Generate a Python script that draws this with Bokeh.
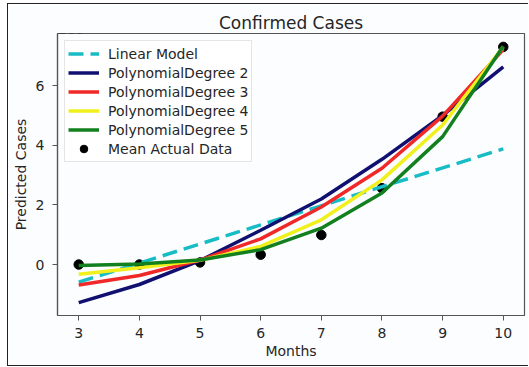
from bokeh.plotting import figure
from bokeh.layouts import column
from bokeh.models import Legend, LegendItem, FixedTicker, Label, Range1d
from bokeh.embed import file_html
from bokeh.resources import INLINE

# ---- data (values in units of 1e6) ----
months = [3, 4, 5, 6, 7, 8, 9, 10]
linear_model = [-0.59, 0.05, 0.69, 1.33, 1.97, 2.61, 3.24, 3.88]
poly_deg2 = [-1.28, -0.67, 0.13, 1.15, 2.20, 3.53, 5.00, 6.63]
poly_deg3 = [-0.69, -0.37, 0.15, 0.86, 1.93, 3.23, 4.98, 7.21]
poly_deg4 = [-0.33, -0.11, 0.14, 0.61, 1.50, 2.84, 4.68, 7.30]
poly_deg5 = [-0.03, 0.02, 0.15, 0.50, 1.22, 2.40, 4.29, 7.32]
mean_actual = [0.0, 0.0, 0.07, 0.33, 0.99, 2.56, 4.96, 7.30]

x_ticks = [3, 4, 5, 6, 7, 8, 9, 10]
y_ticks = [0, 2, 4, 6]

FONT = "DejaVu Sans"
TXT = "#262626"
BG = "#fcfdff"

p = figure(width=520, height=361, output_backend="svg", toolbar_location=None,
           x_range=Range1d(2.65, 10.35), y_range=Range1d(-1.71, 7.75),
           min_border_left=49, min_border_right=4, min_border_top=29, min_border_bottom=50,
           background_fill_color=BG, border_fill_color=BG)

p.title.text = "Confirmed Cases"
p.title.align = "center"
p.title.text_font = FONT
p.title.text_font_size = "17px"
p.title.text_font_style = "normal"
p.title.text_color = TXT
p.title.standoff = 2

p.xgrid.visible = False
p.ygrid.visible = False
p.outline_line_color = "#555555"
p.outline_line_width = 1.2

for ax in (p.xaxis[0], p.yaxis[0]):
    ax.axis_line_color = "#555555"
    ax.axis_line_width = 1.2
    ax.major_tick_line_color = "#555555"
    ax.major_tick_out = 5
    ax.major_tick_in = 0
    ax.minor_tick_out = 0
    ax.minor_tick_in = 0
    ax.major_label_text_font = FONT
    ax.major_label_text_font_size = "14px"
    ax.major_label_text_color = TXT
    ax.axis_label_text_font = FONT
    ax.axis_label_text_font_size = "14px"
    ax.axis_label_text_font_style = "normal"
    ax.axis_label_text_color = TXT

p.xaxis.ticker = FixedTicker(ticks=x_ticks)
p.yaxis.ticker = FixedTicker(ticks=y_ticks)
p.xaxis.axis_label = "Months"
p.yaxis.axis_label = "Predicted Cases"
p.xaxis.major_label_standoff = 7
p.xaxis.axis_label_standoff = 2
p.yaxis.major_label_standoff = 8
p.yaxis.axis_label_standoff = 4

dots = p.scatter(months, mean_actual, size=9.5, color="black")
r_lin = p.line(months, linear_model, line_color="#17bcc4", line_width=3.5, line_dash="15 7")
r2 = p.line(months, poly_deg2, line_color="#101070", line_width=3.5)
r3 = p.line(months, poly_deg3, line_color="#f02828", line_width=3.5)
r4 = p.line(months, poly_deg4, line_color="#f0f01c", line_width=3.5)
r5 = p.line(months, poly_deg5, line_color="#12801e", line_width=3.5)

legend = Legend(items=[
    LegendItem(label="Linear Model", renderers=[r_lin]),
    LegendItem(label="PolynomialDegree 2", renderers=[r2]),
    LegendItem(label="PolynomialDegree 3", renderers=[r3]),
    LegendItem(label="PolynomialDegree 4", renderers=[r4]),
    LegendItem(label="PolynomialDegree 5", renderers=[r5]),
    LegendItem(label="Mean Actual Data", renderers=[dots]),
], location="top_left")
legend.margin = 7
legend.padding = 3
legend.spacing = 0
legend.glyph_width = 31
legend.glyph_height = 19
legend.label_height = 19
legend.label_standoff = 9
legend.label_text_font = FONT
legend.label_text_font_size = "14px"
legend.label_text_color = TXT
legend.border_line_color = "#cccccc"
legend.border_line_width = 1
legend.background_fill_color = "white"
legend.background_fill_alpha = 0.85
p.add_layout(legend, "center")

p.add_layout(Label(x=2.65, y=7.75, text="1e6", text_font=FONT, text_font_size="14px",
                   text_color=TXT, text_baseline="bottom", text_align="left", y_offset=0))

# outer picture border (decoration) on a wrapper
page = column(p, styles={"border-left": "1.5px solid #222222", "border-top": "1.5px solid #222222",
                         "border-bottom": "1.5px solid #222222",
                         "margin-left": "7px", "margin-top": "3px"})

open("out.html", "w").write(file_html(page, INLINE))
